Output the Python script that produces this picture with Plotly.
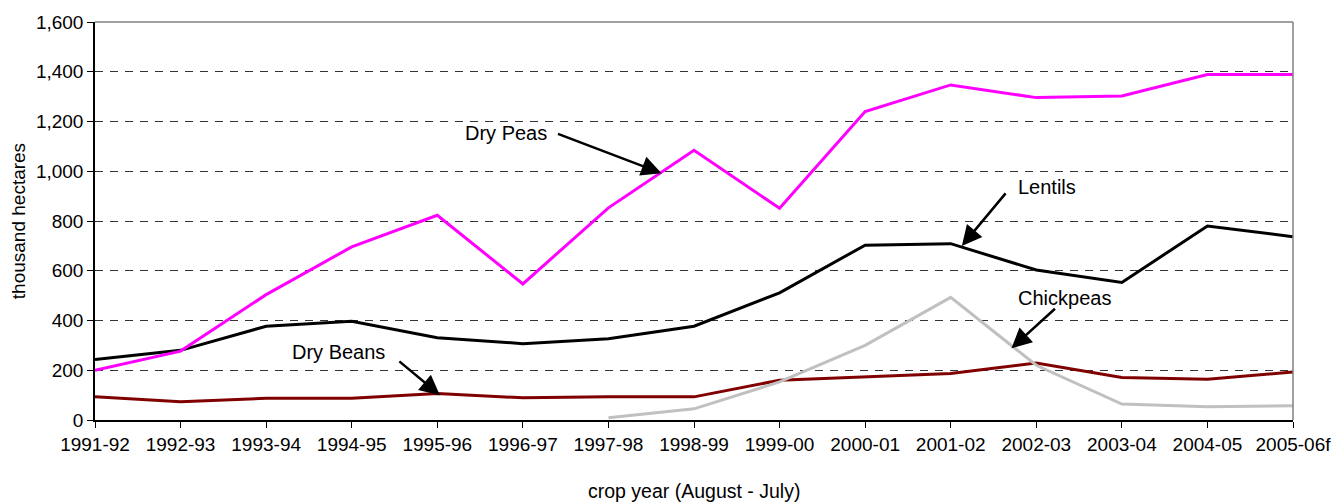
import plotly.graph_objects as go

categories = ["1991-92", "1992-93", "1993-94", "1994-95", "1995-96", "1996-97",
              "1997-98", "1998-99", "1999-00", "2000-01", "2001-02", "2002-03",
              "2003-04", "2004-05", "2005-06f"]

dry_peas = [200, 277, 504, 696, 823, 547, 853, 1084, 851, 1240, 1347, 1296, 1303, 1389, 1389]
lentils = [243, 280, 377, 397, 331, 307, 327, 377, 511, 703, 709, 603, 553, 780, 737]
dry_beans = [93, 73, 87, 87, 107, 89, 93, 93, 160, 173, 187, 229, 171, 164, 193]
chickpeas = [None, None, None, None, None, None, 9, 45, 153, 300, 493, 220, 64, 53, 57]

y_ticks = [0, 200, 400, 600, 800, 1000, 1200, 1400, 1600]
y_ticktext = ["0", "200", "400", "600", "800", "1,000", "1,200", "1,400", "1,600"]

FONT = "Liberation Sans, Arial, sans-serif"

fig = go.Figure()
series = [
    ("Dry Beans", dry_beans, "#800000"),
    ("Chickpeas", chickpeas, "#C0C0C0"),
    ("Lentils", lentils, "#000000"),
    ("Dry Peas", dry_peas, "#FF00FF"),
]
for name, vals, col in series:
    fig.add_trace(go.Scatter(x=categories, y=vals, mode="lines", name=name,
                             line=dict(color=col, width=3), connectgaps=False,
                             showlegend=False, hoverinfo="skip"))

# label annotations: (text, text_x, text_y, head_x, head_y, ax, ay)
labels = [
    ("Dry Peas", 4.80, 1152, 6.62, 992, -105, -40),
    ("Lentils", 11.13, 936, 10.13, 700, 45, -54),
    ("Chickpeas", 11.33, 492, 10.71, 288, 45, -41),
    ("Dry Beans", 2.84, 272, 4.03, 100, -42, -35),
]
for text, tx, ty, hx, hy, ax, ay in labels:
    fig.add_annotation(x=tx, y=ty, xref="x", yref="y", text=text, showarrow=False,
                       font=dict(family=FONT, size=20, color="#000"),
                       xanchor="center", yanchor="middle")
    fig.add_annotation(x=hx, y=hy, xref="x", yref="y", text="", showarrow=True,
                       ax=ax, ay=ay, arrowhead=2, arrowsize=1.6, arrowwidth=2.5,
                       arrowcolor="#000")

fig.add_annotation(x=-0.0641, y=0.5, xref="paper", yref="paper",
                   text="thousand hectares", textangle=-90, showarrow=False,
                   font=dict(family=FONT, size=19, color="#000"),
                   xanchor="center", yanchor="middle")
fig.add_annotation(x=0.5, y=-0.178, xref="paper", yref="paper",
                   text="crop year (August - July)", showarrow=False,
                   font=dict(family=FONT, size=19.5, color="#000"),
                   xanchor="center", yanchor="middle")

fig.add_shape(type="line", xref="paper", yref="paper", x0=0, x1=1, y0=1, y1=1,
              line=dict(color="#808080", width=1.5), layer="above")
fig.add_shape(type="line", xref="paper", yref="paper", x0=1, x1=1, y0=0, y1=1,
              line=dict(color="#808080", width=1.5), layer="above")

fig.update_layout(
    width=1343, height=502,
    margin=dict(l=95, r=47, t=20, b=82),
    paper_bgcolor="white", plot_bgcolor="white",
    font=dict(family=FONT, size=19, color="#000"),
    hovermode=False,
    xaxis=dict(type="category", range=[0, len(categories) - 1],
               showgrid=False, showline=True, linecolor="#000", linewidth=1.5,
               ticks="outside", ticklen=6, tickcolor="#000", tickwidth=1,
               tickfont=dict(family=FONT, size=19, color="#000"), zeroline=False),
    yaxis=dict(range=[0, 1600], tickvals=y_ticks, ticktext=y_ticktext,
               showgrid=True, gridcolor="#333", gridwidth=1, griddash="8px,7px",
               showline=True, linecolor="#000", linewidth=1.5,
               ticks="outside", ticklen=6, tickcolor="#000", tickwidth=1,
               tickfont=dict(family=FONT, size=19, color="#000"), zeroline=False),
)

fig.write_html("out.html", config={"displayModeBar": False},
               post_script="document.body.style.margin='0px';document.body.style.overflow='hidden';")
